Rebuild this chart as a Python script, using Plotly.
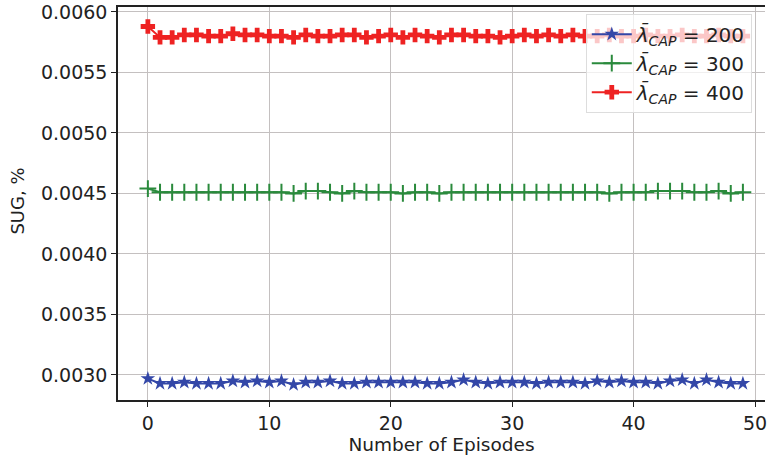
import plotly.graph_objects as go

episodes = list(range(50))

sug_200 = [0.00297, 0.00293, 0.00293, 0.00294, 0.00293, 0.00293, 0.00293, 0.00295, 0.00294, 0.00295,
           0.00294, 0.00295, 0.00292, 0.00294, 0.00294, 0.00295, 0.00293, 0.00293, 0.00294, 0.00294,
           0.00294, 0.00294, 0.00294, 0.00293, 0.00293, 0.00294, 0.00296, 0.00294, 0.00293, 0.00294,
           0.00294, 0.00294, 0.00293, 0.00294, 0.00294, 0.00294, 0.00293, 0.00295, 0.00294, 0.00295,
           0.00294, 0.00294, 0.00293, 0.00295, 0.00296, 0.00293, 0.00296, 0.00294, 0.00293, 0.00293]

sug_300 = [0.00454, 0.00451, 0.00451, 0.00451, 0.00451, 0.00451, 0.00451, 0.00451, 0.00451, 0.00451,
           0.00451, 0.00451, 0.00450, 0.00452, 0.00452, 0.00451, 0.00450, 0.00452, 0.00451, 0.00451,
           0.00451, 0.00450, 0.00451, 0.00451, 0.00450, 0.00451, 0.00451, 0.00451, 0.00451, 0.00451,
           0.00451, 0.00451, 0.00451, 0.00451, 0.00451, 0.00451, 0.00451, 0.00451, 0.00450, 0.00451,
           0.00451, 0.00451, 0.00452, 0.00452, 0.00452, 0.00451, 0.00451, 0.00452, 0.00450, 0.00451]

sug_400 = [0.00588, 0.00579, 0.00579, 0.00581, 0.00581, 0.00580, 0.00580, 0.00582, 0.00581, 0.00581,
           0.00580, 0.00580, 0.00579, 0.00581, 0.00580, 0.00580, 0.00581, 0.00581, 0.00579, 0.00580,
           0.00581, 0.00579, 0.00581, 0.00580, 0.00579, 0.00581, 0.00581, 0.00580, 0.00580, 0.00579,
           0.00580, 0.00581, 0.00580, 0.00581, 0.00580, 0.00581, 0.00580, 0.00580, 0.00581, 0.00580,
           0.00580, 0.00581, 0.00580, 0.00580, 0.00581, 0.00580, 0.00580, 0.00581, 0.00580, 0.00580]

x_ticks = [0, 10, 20, 30, 40, 50]
y_ticks = [0.0030, 0.0035, 0.0040, 0.0045, 0.0050, 0.0055, 0.0060]
y_tick_labels = ["0.0030", "0.0035", "0.0040", "0.0045", "0.0050", "0.0055", "0.0060"]

series_names = ["<i>λ̄</i><sub><i>CAP</i></sub> = 200",
                "<i>λ̄</i><sub><i>CAP</i></sub> = 300",
                "<i>λ̄</i><sub><i>CAP</i></sub> = 400"]

FONT = "DejaVu Sans, sans-serif"

fig = go.Figure()
fig.add_trace(go.Scatter(
    x=episodes, y=sug_200, mode="lines+markers", name=series_names[0],
    line=dict(color="#3347a8", width=2),
    marker=dict(symbol="star", size=11, color="#3347a8", line=dict(width=0))))
fig.add_trace(go.Scatter(
    x=episodes, y=sug_300, mode="lines+markers", name=series_names[1],
    line=dict(color="#2a8a3c", width=2),
    marker=dict(symbol="cross-thin", size=12, color="#2a8a3c",
                line=dict(width=2, color="#2a8a3c"))))
fig.add_trace(go.Scatter(
    x=episodes, y=sug_400, mode="lines+markers", name=series_names[2],
    line=dict(color="#ee2222", width=2),
    marker=dict(symbol="cross", size=12, color="#ee2222", line=dict(width=0))))

fig.update_layout(
    width=767, height=461,
    margin=dict(l=118, r=0, t=7, b=61),
    paper_bgcolor="white", plot_bgcolor="white",
    font=dict(family=FONT, size=18, color="#222222"),
    showlegend=True,
    legend=dict(
        x=0.723, y=0.983, xanchor="left", yanchor="top",
        bgcolor="rgba(255,255,255,0.75)", bordercolor="#dddddd", borderwidth=1,
        font=dict(family=FONT, size=20, color="#222222"),
        tracegroupgap=0, itemwidth=40),
)
fig.update_xaxes(
    range=[-2.46, 50.82], tickvals=x_ticks, ticktext=[str(t) for t in x_ticks],
    showgrid=True, gridcolor="#c4c0c0", gridwidth=1,
    showline=True, linecolor="#222222", linewidth=1.5, mirror=True,
    ticks="outside", ticklen=5, tickcolor="#222222", tickwidth=1.2,
    zeroline=False, ticklabeloverflow="allow",
    title=dict(text="Number of Episodes", font=dict(family=FONT, size=18.5), standoff=5),
    tickfont=dict(family=FONT, size=19),
)
fig.update_yaxes(
    range=[0.002793, 0.006041], tickvals=y_ticks, ticktext=y_tick_labels,
    showgrid=True, gridcolor="#c4c0c0", gridwidth=1,
    showline=True, linecolor="#222222", linewidth=1.5, mirror=False,
    ticks="outside", ticklen=5, tickcolor="#222222", tickwidth=1.2,
    zeroline=False,
    tickfont=dict(family=FONT, size=19),
)
fig.add_annotation(
    text="SUG, %", xref="paper", yref="paper", x=-0.156, y=0.505,
    xanchor="center", yanchor="middle", textangle=-90, showarrow=False,
    font=dict(family=FONT, size=18, color="#222222"))

fig.write_html("out.html")
